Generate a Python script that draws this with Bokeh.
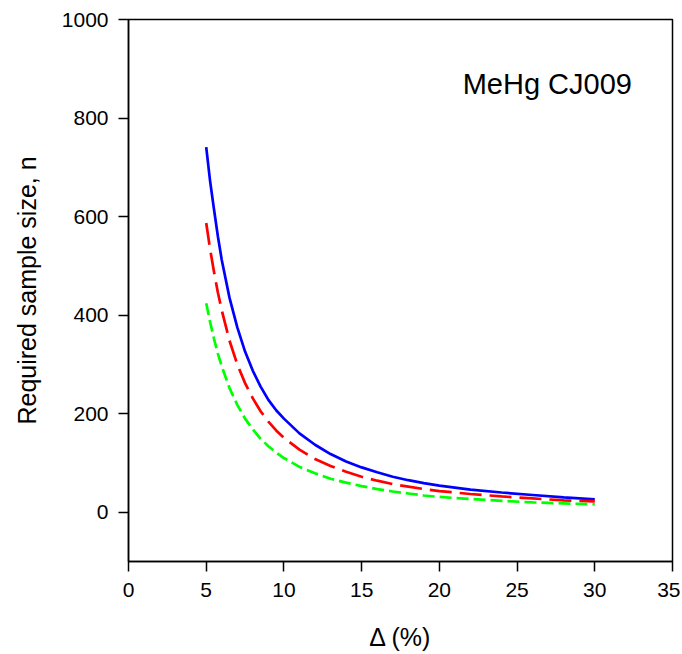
from bokeh.plotting import figure
from bokeh.models import Range1d, FixedTicker, Label
from bokeh.embed import file_html
from bokeh.resources import INLINE

# Delta (%) values at which curves were read
delta = [5, 5.25, 5.5, 5.75, 6, 6.5, 7, 7.5, 8, 8.5, 9, 9.5, 10, 11, 12, 13, 14,
         15, 16, 17, 18, 19, 20, 22, 24, 26, 28, 30]
n_blue = [741, 672, 615, 560, 512, 435, 375, 326, 287, 255, 228, 207, 190, 160, 137,
          118, 103, 91, 81, 72, 65, 59, 54, 46, 40, 35, 30, 26]
n_red = [587, 534, 488, 446, 410, 348, 300, 262, 231, 205, 184, 166, 151, 127, 108,
         94, 82, 72, 64, 57, 52, 47, 43, 37, 32, 28, 24, 22]
n_green = [424, 386, 352, 322, 296, 252, 218, 190, 168, 149, 134, 121, 110, 92, 79,
           68, 60, 53, 47, 42, 38, 34, 31, 27, 23, 20, 18, 16]

x_ticks = [0, 5, 10, 15, 20, 25, 30, 35]
y_ticks = [0, 200, 400, 600, 800, 1000]

FONT = "Liberation Sans"

p = figure(width=680, height=654, output_backend="svg", toolbar_location=None,
           x_range=Range1d(0, 35), y_range=Range1d(-100, 1000),
           min_border_left=128, min_border_right=8, min_border_top=19, min_border_bottom=93)

p.background_fill_color = "white"
p.border_fill_color = "white"
p.outline_line_color = "black"
p.outline_line_width = 1.5
p.xgrid.visible = False
p.ygrid.visible = False

p.line(delta, n_blue, line_color="#0000ff", line_width=2.7)
p.line(delta, n_red, line_color="#ff0000", line_width=2.7, line_dash="22 8")
p.line(delta, n_green, line_color="#00ff00", line_width=2.7, line_dash="12 5")

for ax in (p.xaxis[0], p.yaxis[0]):
    ax.axis_line_color = "black"
    ax.axis_line_width = 1.5
    ax.major_tick_line_color = "black"
    ax.major_tick_line_width = 1.5
    ax.major_tick_in = 0
    ax.major_tick_out = 10
    ax.minor_tick_line_color = None
    ax.major_label_text_font = FONT
    ax.major_label_text_font_size = "21px"
    ax.major_label_text_color = "black"
    ax.axis_label_text_font = FONT
    ax.axis_label_text_font_style = "normal"
    ax.axis_label_text_color = "black"

p.xaxis.ticker = FixedTicker(ticks=x_ticks)
p.yaxis.ticker = FixedTicker(ticks=y_ticks)
p.xaxis.axis_label = "Δ (%)"
p.yaxis.axis_label = "Required sample size, n"
p.xaxis.axis_label_text_font_size = "25px"
p.yaxis.axis_label_text_font_size = "25px"
p.xaxis.major_label_standoff = 11
p.yaxis.major_label_standoff = 10
p.xaxis.axis_label_standoff = 23
p.yaxis.axis_label_standoff = 18

p.add_layout(Label(x=21.5, y=869, text="MeHg CJ009", text_font=FONT,
                   text_font_size="29px", text_color="black",
                   text_align="left", text_baseline="alphabetic"))

open("out.html", "w").write(file_html(p, INLINE))
